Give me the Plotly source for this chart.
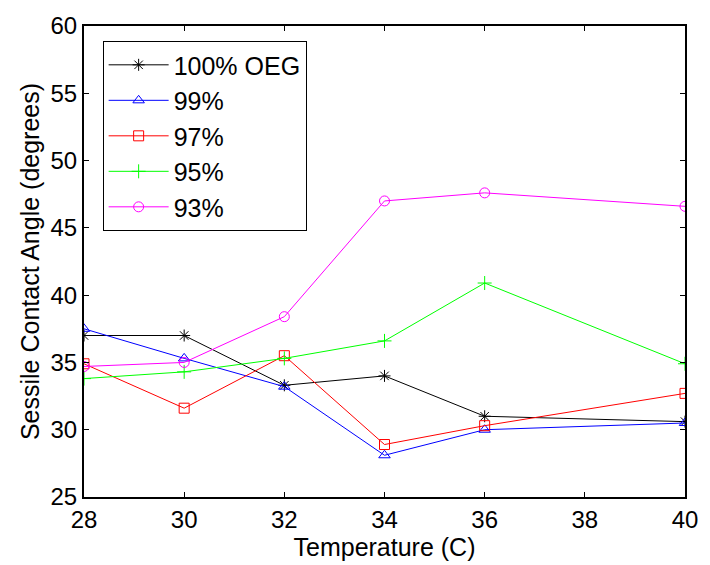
import plotly.graph_objects as go

temps = [28, 30, 32, 34, 36, 40]
oeg100 = [37.0, 37.0, 33.3, 34.0, 31.0, 30.6]
oeg99 = [37.5, 35.3, 33.2, 28.1, 30.0, 30.5]
oeg97 = [34.9, 31.6, 35.5, 28.9, 30.3, 32.7]
oeg95 = [33.8, 34.3, 35.3, 36.6, 40.9, 34.9]
oeg93 = [34.7, 35.0, 38.4, 47.0, 47.6, 46.6]

names = ["100% OEG", "99%", "97%", "95%", "93%"]
series = [oeg100, oeg99, oeg97, oeg95, oeg93]
colors = ["#000000", "#0000ff", "#ff0000", "#00ff00", "#ff00ff"]
symbols = ["asterisk-open", "triangle-up-open", "square-open", "cross-thin-open", "circle-open"]

FONT = "Arial, Liberation Sans, sans-serif"

fig = go.Figure()
for nm, ys, c, s in zip(names, series, colors, symbols):
    fig.add_trace(go.Scatter(
        x=temps, y=ys, name=nm, mode="lines+markers",
        line=dict(color=c, width=1),
        marker=dict(symbol=s, size=10, color=c, line=dict(color=c, width=1)),
    ))

axis_common = dict(
    showline=True, linecolor="black", linewidth=2, mirror="ticks",
    ticks="inside", ticklen=5, tickwidth=1, tickcolor="black",
    showgrid=False, zeroline=False,
    tickfont=dict(family=FONT, size=24, color="black"),
    title_font=dict(family=FONT, size=25, color="black"),
)

fig.update_layout(
    width=710, height=565,
    margin=dict(l=84, r=17, t=23, b=68),
    paper_bgcolor="white", plot_bgcolor="white",
    font=dict(family=FONT, color="black"),
    xaxis=dict(range=[28, 40], tickvals=[28, 30, 32, 34, 36, 38, 40],
               title=dict(text="Temperature (C)", standoff=2), **axis_common),
    yaxis=dict(range=[25, 60], tickvals=[25, 30, 35, 40, 45, 50, 55, 60],
               title=dict(text="Sessile Contact Angle (degrees)", standoff=4), **axis_common),
    legend=dict(x=0.031, y=0.968, xanchor="left", yanchor="top",
                bgcolor="white", bordercolor="black", borderwidth=1,
                font=dict(family=FONT, size=25, color="black"),
                itemwidth=60, tracegroupgap=0),
    showlegend=True,
)

fig.write_html("out.html")
